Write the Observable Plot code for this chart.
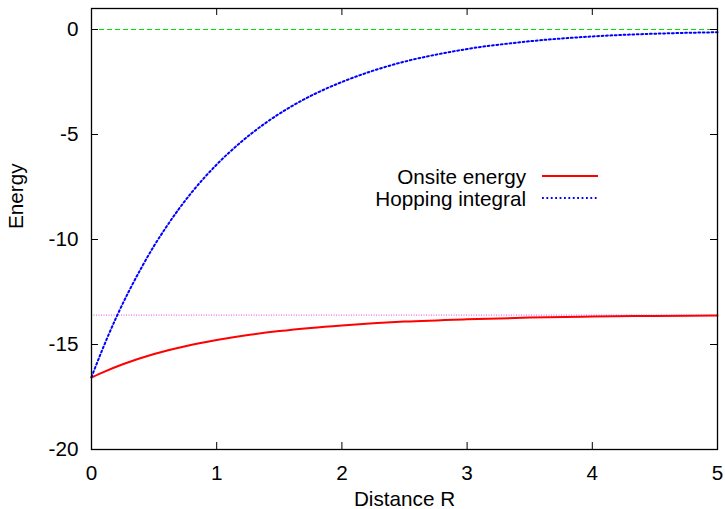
<!DOCTYPE html>
<html>
<head>
<meta charset="utf-8">
<script src="https://cdn.jsdelivr.net/npm/d3@7"></script>
<script src="https://cdn.jsdelivr.net/npm/@observablehq/plot@0.6"></script>
<style>
  html, body { margin: 0; padding: 0; background: #fff; }
  #chart { position: relative; width: 725px; height: 509px; }
</style>
</head>
<body>
<div id="chart"></div>
<script>
// Onsite energy (solid red)
const onsiteR = [0, 0.1, 0.25, 0.5, 0.75, 1, 1.25, 1.5, 1.75, 2, 2.25, 2.5, 3, 3.5, 4, 4.5, 5];
const onsiteE = [-16.57, -16.3, -15.94, -15.45, -15.08, -14.79, -14.55, -14.36, -14.21, -14.09, -13.99, -13.91, -13.8, -13.72, -13.67, -13.64, -13.62];
// Hopping integral (dotted blue)
const hopR = [0, 0.1, 0.2, 0.3, 0.4, 0.5, 0.6, 0.7, 0.8, 1.0, 1.2, 1.4, 1.6, 1.8, 2.0, 2.25, 2.5, 2.75, 3.0, 3.5, 4.0, 4.5, 5.0];
const hopE = [-16.55, -15.05, -13.68, -12.45, -11.33, -10.3, -9.38, -8.53, -7.76, -6.43, -5.33, -4.41, -3.65, -3.02, -2.5, -1.96, -1.53, -1.2, -0.93, -0.56, -0.33, -0.2, -0.13];
// Reference lines: zero (green dashed) and isolated-atom level (magenta dotted)
const zeroLine = [0];
const atomLevel = [-13.6];
// Axis ticks
const xTicks = [0, 1, 2, 3, 4, 5];
const yTicks = [-20, -15, -10, -5, 0];
const seriesNames = ["Onsite energy", "Hopping integral"];

const onsite = onsiteR.map((r, i) => ({R: r, E: onsiteE[i]}));
const hop = hopR.map((r, i) => ({R: r, E: hopE[i]}));

const FONT = "'Liberation Sans', Arial, Helvetica, sans-serif";
const FS = 20.7;
const fmt = d => String(d);
const BLUE_DASH = "1.8,2.6";
const W = 725, H = 509, ML = 91, MR = 8, MT = 8, MB = 60;
const FW = W - ML - MR, FH = H - MT - MB, TICK = 7;

const svg = Plot.plot({
  width: W,
  height: H,
  marginLeft: ML,
  marginRight: MR,
  marginTop: MT,
  marginBottom: MB,
  style: {fontFamily: FONT, fontSize: FS + "px", background: "#fff", color: "#000"},
  x: {domain: [0, 5]},
  y: {domain: [-20, 1]},
  marks: [
    Plot.ruleY(zeroLine, {stroke: "#00dd00", strokeWidth: 1.2, strokeDasharray: "5,3"}),
    Plot.ruleY(atomLevel, {stroke: "#ee44ee", strokeWidth: 1, strokeDasharray: "1,1.5"}),
    Plot.line(onsite, {x: "R", y: "E", stroke: "#ff0000", strokeWidth: 2, curve: "monotone-x"}),
    Plot.line(hop, {x: "R", y: "E", stroke: "#0000ff", strokeWidth: 2, strokeDasharray: BLUE_DASH, curve: "monotone-x"}),
    // inward ticks on all four sides (gnuplot style)
    Plot.tickX(xTicks, {x: d => d, insetTop: FH - TICK, stroke: "#000"}),
    Plot.tickX(xTicks, {x: d => d, insetBottom: FH - TICK, stroke: "#000"}),
    Plot.tickY(yTicks, {y: d => d, insetRight: FW - TICK, stroke: "#000"}),
    Plot.tickY(yTicks, {y: d => d, insetLeft: FW - TICK, stroke: "#000"}),
    // tick labels
    Plot.axisX(xTicks, {anchor: "bottom", tickSize: 0, tickPadding: 16, tickFormat: fmt, label: null, fontSize: FS, fill: "#000"}),
    Plot.axisY(yTicks, {anchor: "left", tickSize: 0, tickPadding: 13, tickFormat: fmt, label: null, fontSize: FS, fill: "#000"}),
    Plot.frame({stroke: "#000", strokeWidth: 1.3}),
    // axis titles
    Plot.text(["Distance R"], {frameAnchor: "bottom", dy: 56, fontSize: FS, fill: "#000", text: d => d}),
    Plot.text(["Energy"], {frameAnchor: "left", dx: -75, rotate: -90, fontSize: FS, fill: "#000", text: d => d})
  ]
});

document.getElementById("chart").appendChild(svg);

// Legend (gnuplot key) drawn into the same SVG
const key = d3.select(svg).append("g").attr("font-family", FONT).attr("font-size", FS);
const keyStyles = [
  {stroke: "#ff0000", dash: null},
  {stroke: "#0000ff", dash: BLUE_DASH}
];
seriesNames.forEach((name, i) => {
  const yMid = 176 + i * 22;
  key.append("text")
    .attr("x", 526).attr("y", yMid + 7.5)
    .attr("text-anchor", "end").attr("fill", "#000")
    .text(name);
  key.append("line")
    .attr("x1", 542).attr("x2", 598)
    .attr("y1", yMid).attr("y2", yMid)
    .attr("stroke", keyStyles[i].stroke).attr("stroke-width", 2)
    .attr("stroke-dasharray", keyStyles[i].dash);
});
</script>
</body>
</html>
